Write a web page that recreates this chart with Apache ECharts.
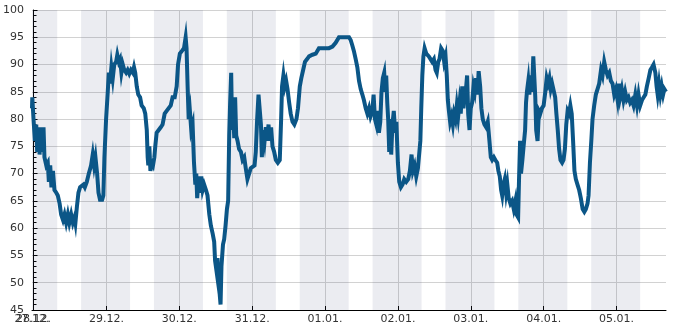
<!DOCTYPE html>
<html>
<head>
<meta charset="utf-8">
<script src="https://cdn.jsdelivr.net/npm/echarts@6/dist/echarts.min.js"></script>
<style>
html,body{margin:0;padding:0;background:#fff;}
#chart{width:685px;height:330px;}
</style>
</head>
<body>
<div id="chart"></div>
<script>
// hours since 28.12. 00:00
var times = [-0.5,-0.4,0,0.45,0.9,1.2,1.65,2.0,2.4,2.85,3.3,3.6,4.2,4.7,5.05,5.5,5.9,6.4,6.9,7.5,8.0,8.6,9.1,9.7,10.2,10.75,11.3,11.8,12.4,12.95,13.5,13.8,14.3,14.8,15.35,16.0,16.45,16.9,17.55,18.2,18.95,19.5,19.95,20.4,20.95,21.4,21.9,22.6,23.0,23.35,23.9,24.45,24.8,25.2,25.65,26.1,26.6,27.2,27.6,28.1,28.5,28.95,29.4,29.9,30.5,31.0,31.55,32.1,32.7,33.1,33.5,34.0,34.5,35.1,35.6,36.3,36.8,37.3,37.6,37.8,38.15,38.5,38.9,39.35,39.8,40.1,40.55,41.2,41.9,42.5,43.2,43.85,44.5,45.2,45.8,46.5,47.15,47.6,48.2,48.9,49.55,50.1,50.4,50.75,51.1,51.5,51.95,52.4,52.85,53.3,53.6,53.9,54.4,54.8,55.25,55.7,56.2,56.8,57.3,57.9,58.4,59.0,59.5,59.8,60.3,60.6,60.95,61.3,61.6,61.9,62.4,62.8,63.25,63.7,64.1,64.45,64.75,65.1,65.4,65.75,66.1,66.4,66.75,67.2,67.7,68.3,68.85,69.4,69.9,70.45,71.0,71.55,72.1,72.8,73.2,73.65,74.1,74.55,74.9,75.2,75.6,76.1,76.5,76.9,77.4,77.8,78.25,78.7,79.25,79.8,80.45,81.1,81.55,81.85,82.3,82.75,83.2,83.65,84.2,84.7,85.3,85.9,86.6,87.1,87.7,88.2,88.8,89.4,90.1,90.75,91.85,92.95,94.0,95.65,97.3,98.45,99.5,100.6,102.25,103.9,104.45,105.0,105.5,106.1,106.65,107.2,107.75,108.3,108.8,109.4,109.95,110.5,111.0,111.6,112.0,112.45,112.9,113.3,113.75,114.2,114.6,115.05,115.5,115.85,116.15,116.5,116.8,117.15,117.45,117.8,118.2,118.65,119.1,119.5,120.0,120.45,121.0,121.55,122.1,122.75,123.4,123.95,124.5,124.95,125.5,126.05,126.6,127.05,127.4,127.7,128.05,128.4,128.8,129.35,129.65,130.2,130.75,131.3,131.85,132.4,132.8,133.3,133.7,134.25,134.8,135.25,135.7,136.1,136.45,136.8,137.2,137.65,138.1,138.5,138.95,139.4,139.85,140.3,140.7,141.2,141.6,142.05,142.5,142.8,143.15,143.6,144.0,144.45,144.9,145.3,145.75,146.2,146.6,147.1,147.5,147.95,148.5,149.05,149.6,150.15,150.6,151.05,151.6,152.1,152.7,153.1,153.55,154.0,154.35,154.75,155.2,155.65,156.05,156.5,157.05,157.6,158.15,158.7,159.1,159.6,159.9,160.25,160.55,161.0,161.4,161.9,162.2,162.5,162.95,163.3,163.7,164.15,164.6,164.9,165.25,165.55,166.0,166.45,166.9,167.45,168.0,168.55,169.0,169.45,169.9,170.35,170.8,171.35,171.8,172.2,172.65,173.1,173.55,174.1,174.55,175.0,175.45,175.9,176.35,176.8,177.25,177.7,178.15,178.6,179.15,179.7,180.25,180.85,181.4,181.9,182.45,182.8,183.25,183.7,184.1,184.65,185.2,185.75,186.3,186.9,187.4,187.95,188.5,189.05,189.6,190.15,190.7,191.25,191.8,192.35,192.8,193.2,193.75,194.3,194.85,195.4,195.95,196.5,197.05,197.6,198.2,198.75,199.25,199.8,200.4,200.9,201.5,202.0,202.6,203.15,203.7,204.2,204.8,205.2,205.55,206.0,206.45,206.9,207.35,207.75,208.3];
var values = [82,84,80,76,79,74,78.5,73.5,78.5,74,78.5,73,71.5,72,68.5,71.5,67.5,70.5,67,66.5,66,64.5,62.5,61.5,62.5,61,62.5,61,62.5,61,62,61,64,66.5,67.5,67.5,68,67.5,68.5,70,71.5,73.5,71.5,73,70,66.5,65.2,65.2,66,73,80,85,88.5,86.5,89.5,87.5,90,90.5,91.8,90.5,91,88.5,90,89,88.5,89,88.3,89,88.5,89.5,88.5,86,84.5,84,82.5,82,81,78,73,71.5,75,70.5,72,71.5,73,75,77.5,77.5,78.5,79,81,81.5,81.5,82.5,84,84,86,90,92,92.5,93,95,93,86,80,81.5,78,79,72,68,70,65.5,69.5,66.5,69.5,67,68,67,66,62.5,60.5,59,57.5,54,52,54.5,49.5,48,46,53,57,58,60.5,63.5,65,77,83,88.5,78,82,76.5,84,77,76,74.5,74,72.5,73,71,69,70,71,71,71.5,74,80,84.5,84.5,79,73,78,76,78.5,76,79,76,78.5,75,74,72.5,72,72.5,80,86,88,86,87,85.5,83,81,79.5,79,80,82,86,87.5,89,90.5,91,91.5,91.8,92,93,93,93,93.3,94,95,95,95,94.5,93.5,92.5,91,89.5,87,85.5,84.5,83.5,82,81,82,80.5,81.5,84.5,80,79,81.5,77.5,79.5,85,87.5,88.5,85,88,83,80,74,80,73.5,79,81.5,77.5,79.5,72,68.5,67.5,68,69,68.5,69,70.5,73.5,70.5,71.5,69.5,71,71,76,82,88,91.5,93,92,92,91.5,91.5,90.5,91,89,88.5,90.5,91,93,92.5,90.5,91.5,88,83.5,81.5,79.5,80.5,79,81,80,82.5,80.5,83,81,86,82,84.5,86,88,81,78,82,83,86,85,87.5,84.5,88.8,86,82,80,79,78.5,79.5,76,73,72.5,73,72.5,72,70.5,69.5,67,66,68,69,66.5,68,65.5,64.5,65,63.5,65,62.5,62,69,76,70,72.5,75,78,83,85,87,84.5,88,85,91.5,88,84,78,76,81.5,81,82,82.5,85,87.5,86.5,87.5,85.5,86.5,86.5,84,81,78,74.5,72.5,72,72.5,74.5,79,81.5,81,82.5,81,76,70.5,69,68,67,65.5,63.5,63,63.5,64.5,66,72,76,80,82.5,84.5,85.5,86.5,89,88,90.5,89,88,88.5,87,86.5,84.5,85.5,83.5,86.5,84,85.5,83.5,85,83.5,84,83,83.5,82.5,84.5,82.5,84.5,82.5,83.5,83.5,84.5,86,87.5,89,89.5,90,88.5,86,84.5,86.5,84.5,86,84.5,85.5,85];

var tickValues = [0, 24, 48, 72, 96, 120, 144, 168, 192];
var tickLabels = ['28.12.', '29.12.', '30.12.', '31.12.', '01.01.', '02.01.', '03.01.', '04.01.', '05.01.'];
var startValue = [-0.5];
var startLabel = ['27.12.'];
var yTicks = [45, 50, 55, 60, 65, 70, 75, 80, 85, 90, 95, 100];
// night shading (hours since 28.12. 00:00)
var nightStart = [-0.5, 15.67, 39.67, 63.67, 87.67, 111.67, 135.67, 159.67, 183.67];
var nightEnd   = [7.8, 31.8, 55.8, 79.8, 103.8, 127.8, 151.8, 175.8, 199.8];

var seriesData = times.map(function (t, i) { return [t, values[i]]; });
var bands = nightStart.map(function (s, i) { return [{ xAxis: s }, { xAxis: nightEnd[i] }]; });

var labelFont = { color: '#333', fontFamily: 'DejaVu Sans', fontSize: 11 };

var chart = echarts.init(document.getElementById('chart'), null, { renderer: 'canvas' });
chart.setOption({
  animation: false,
  backgroundColor: '#ffffff',
  grid: { left: 31, right: 19, top: 10, bottom: 20, containLabel: false },
  xAxis: [{
    type: 'value',
    min: -0.5,
    max: 208.3,
    axisLine: { show: true, onZero: false, lineStyle: { color: '#000', width: 1 } },
    axisTick: { show: true, inside: true, length: 4, customValues: tickValues, lineStyle: { color: '#000' } },
    axisLabel: Object.assign({
      customValues: tickValues,
      margin: 4,
      hideOverlap: false,
      formatter: function (v) {
        var i = tickValues.indexOf(v);
        return i >= 0 ? tickLabels[i] : '';
      }
    }, labelFont),
    splitLine: { show: true, lineStyle: { color: '#d2d2d2', width: 1 } }
  }, {
    type: 'value',
    position: 'bottom',
    min: -0.5,
    max: 208.3,
    axisLine: { show: false, onZero: false },
    axisTick: { show: false },
    splitLine: { show: false },
    axisLabel: Object.assign({
      customValues: startValue,
      margin: 4,
      formatter: function (v) { return startLabel[0]; }
    }, labelFont)
  }],
  yAxis: {
    type: 'value',
    min: 45,
    max: 100,
    interval: 5,
    axisLine: { show: true, lineStyle: { color: '#000', width: 1 } },
    axisTick: { show: true, inside: true, length: 4, lineStyle: { color: '#000' } },
    minorTick: { show: true, splitNumber: 5, length: 3, lineStyle: { color: '#000' } },
    axisLabel: Object.assign({
      margin: 8,
      formatter: function (v) { return yTicks.indexOf(v) >= 0 ? String(v) : ''; }
    }, labelFont),
    splitLine: { show: true, lineStyle: { color: '#d2d2d2', width: 1 } }
  },
  series: [{
    type: 'line',
    xAxisIndex: 0,
    data: seriesData,
    showSymbol: false,
    symbol: 'none',
    lineStyle: { color: '#0b5687', width: 4, join: 'miter' },
    itemStyle: { color: '#0b5687' },
    markArea: {
      silent: true,
      itemStyle: { color: 'rgba(55,65,115,0.1)' },
      data: bands
    }
  }]
});
</script>
</body>
</html>
